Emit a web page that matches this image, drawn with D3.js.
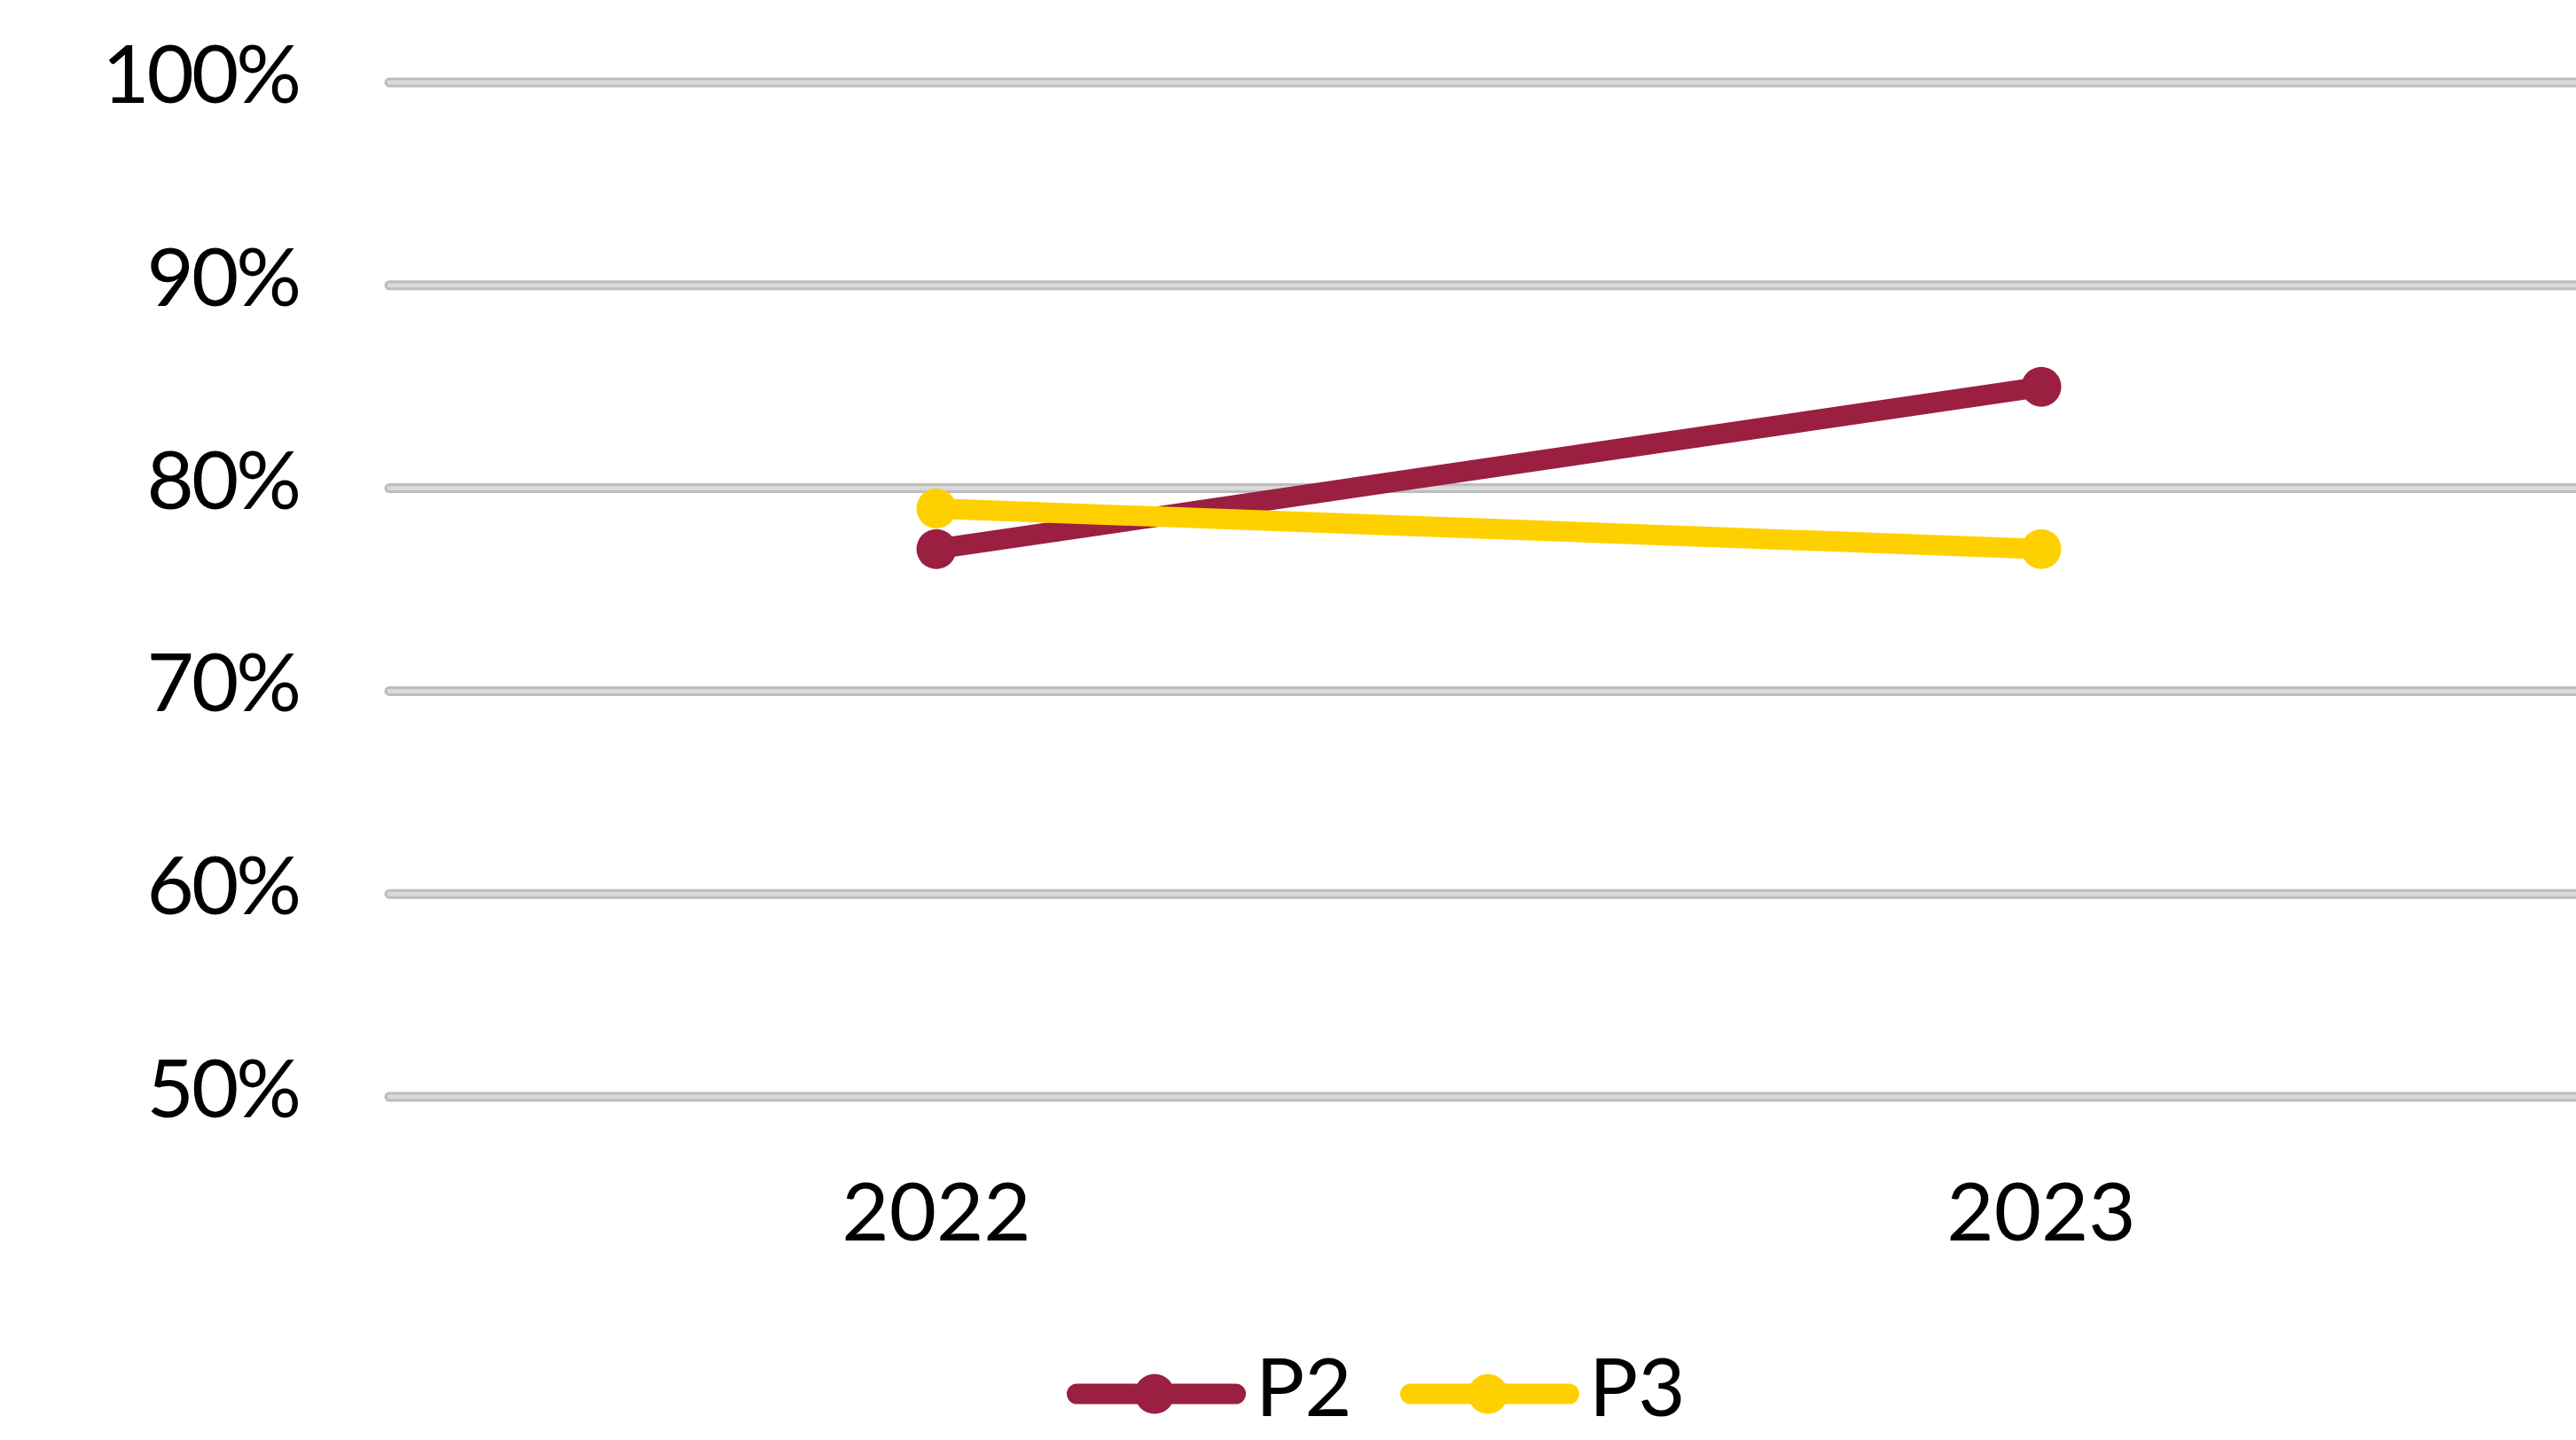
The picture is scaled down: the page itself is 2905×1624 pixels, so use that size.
<!DOCTYPE html>
<html lang="en">
<head>
    <meta charset="UTF-8">
    <title>P2 / P3</title>
    <style>
        body, html {
            margin: 0;
            padding: 0;
            background-color: #ffffff;
        }
        svg text {
            font-family: Lato, "Open Sans", "Liberation Sans", sans-serif;
            font-size: 92px;
            fill: #000000;
        }
    </style>
</head>
<body>
    <div id="chart"></div>
    <script src="https://d3js.org/d3.v7.min.js"></script>
    <script>
        // data
        const years = ['2022', '2023'];
        const seriesNames = ['P2', 'P3'];
        const p2Values = [0.77, 0.85];
        const p3Values = [0.79, 0.77];
        const yTicks = [0.5, 0.6, 0.7, 0.8, 0.9, 1.0];
        const colors = { P2: '#9a1f41', P3: '#ffd000' };

        const width = 2905, height = 1624;
        const svg = d3.select('#chart').append('svg')
            .attr('width', width)
            .attr('height', height);

        // plot area runs past the right edge of the picture
        const x = d3.scalePoint()
            .domain(years)
            .range([433, 2925])
            .padding(0.5);

        const y = d3.scaleLinear()
            .domain([0.5, 1.0])
            .range([1237, 93]);

        // gridlines (grey bar with darker edges)
        const grid = svg.append('g');
        grid.selectAll('line.outer')
            .data(yTicks)
            .enter().append('line')
            .attr('class', 'outer')
            .attr('x1', 439).attr('x2', width + 10)
            .attr('y1', d => y(d)).attr('y2', d => y(d))
            .attr('stroke', '#bdbdbd')
            .attr('stroke-width', 11)
            .attr('stroke-linecap', 'round');
        grid.selectAll('line.inner')
            .data(yTicks)
            .enter().append('line')
            .attr('class', 'inner')
            .attr('x1', 437).attr('x2', width + 10)
            .attr('y1', d => y(d)).attr('y2', d => y(d))
            .attr('stroke', '#d9d9d9')
            .attr('stroke-width', 5);

        // y labels
        svg.append('g').selectAll('text')
            .data(yTicks)
            .enter().append('text')
            .attr('x', 337)
            .attr('y', d => y(d) + 23)
            .attr('text-anchor', 'end')
            .attr('letter-spacing', -3)
            .text(d => d3.format('.0%')(d));

        // x labels
        svg.append('g').selectAll('text')
            .data(years)
            .enter().append('text')
            .attr('x', d => x(d))
            .attr('y', 1399)
            .attr('text-anchor', 'middle')
            .text(d => d);

        const series = [
            { name: 'P2', values: p2Values },
            { name: 'P3', values: p3Values }
        ];

        const line = d3.line()
            .x((d, i) => x(years[i]))
            .y(d => y(d));

        series.forEach(s => {
            const g = svg.append('g');
            g.append('path')
                .datum(s.values)
                .attr('d', line)
                .attr('fill', 'none')
                .attr('stroke', colors[s.name])
                .attr('stroke-width', 23)
                .attr('stroke-linecap', 'round');
            g.selectAll('circle')
                .data(s.values)
                .enter().append('circle')
                .attr('cx', (d, i) => x(years[i]))
                .attr('cy', d => y(d))
                .attr('r', 22.5)
                .attr('fill', colors[s.name]);
        });

        // legend
        const legendY = 1572;
        const legend = svg.append('g');
        seriesNames.forEach((name, i) => {
            const lx = 1203 + i * 376;
            const item = legend.append('g').attr('transform', `translate(${lx},${legendY})`);
            item.append('line')
                .attr('x1', 11.5).attr('x2', 190.5)
                .attr('y1', 0).attr('y2', 0)
                .attr('stroke', colors[name])
                .attr('stroke-width', 23)
                .attr('stroke-linecap', 'round');
            item.append('circle')
                .attr('cx', 99).attr('cy', 0)
                .attr('r', 22.5)
                .attr('fill', colors[name]);
            item.append('text')
                .attr('x', 213)
                .attr('y', 25)
                .text(name);
        });
    </script>
</body>
</html>
